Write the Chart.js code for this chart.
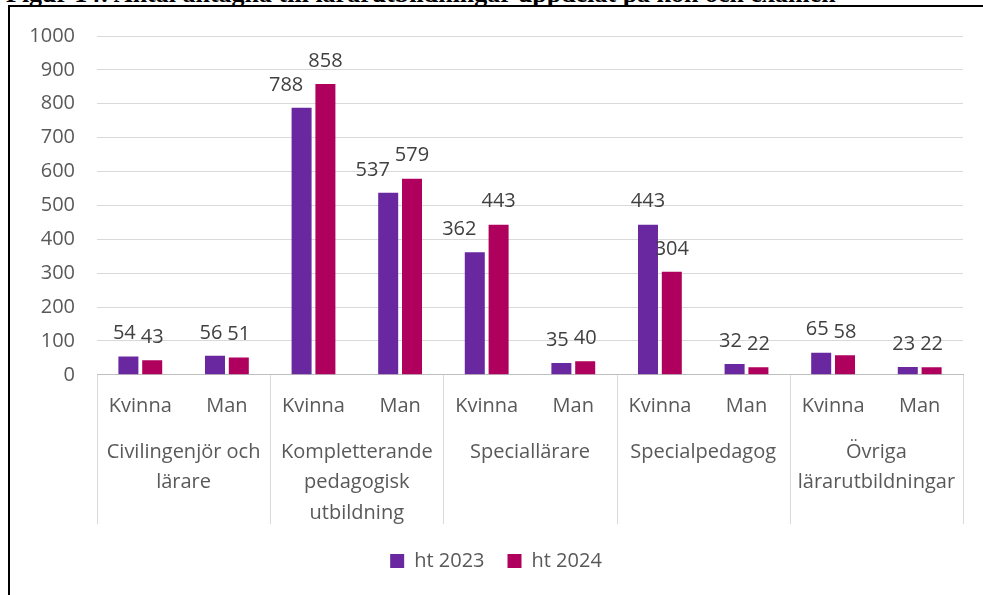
<!DOCTYPE html>
<html>
<head>
<meta charset="utf-8">
<script src="https://cdn.jsdelivr.net/npm/chart.js@4.4.1/dist/chart.umd.min.js"></script>
<style>
html,body{margin:0;padding:0;background:#fff;overflow:hidden;width:983px;height:595px;}
#title{position:absolute;left:6px;top:-19px;font:bold 26px "Liberation Serif",serif;line-height:26px;white-space:nowrap;color:#000;}
#frame{position:absolute;left:8px;top:5px;width:1000px;height:620px;border:2px solid #000;box-sizing:border-box;}
#wrap{position:absolute;left:10px;top:7px;width:973px;height:588px;}
</style>
</head>
<body>
<div id="title">Figur 14: Antal antagna till lärarutbildningar uppdelat på kön och examen</div>
<div id="frame"></div>
<div id="wrap"><canvas id="chart"></canvas></div>
<script>
// grupper (examen) och kön
const groups=[['Civilingenjör och','lärare'],['Kompletterande','pedagogisk','utbildning'],'Speciallärare','Specialpedagog',['Övriga','lärarutbildningar']]
const genders=['Kvinna','Man']
const subLabels=['Kvinna','Man','Kvinna','Man','Kvinna','Man','Kvinna','Man','Kvinna','Man']
const ht2023=[54,56,788,537,362,35,443,32,65,23]
const ht2024=[43,51,858,579,443,40,304,22,58,22]
const yTicks=[0,100,200,300,400,500,600,700,800,900,1000]

const textColor='#595959'
const fontFam='"Open Sans", sans-serif'
const fontSize=20

// värden ovanför staplarna, vänster etikett flyttas om de krockar
const valueLabels={
id:'valueLabels',
afterDatasetsDraw(chart){
const ctx=chart.ctx
ctx.save()
ctx.font=fontSize+'px '+fontFam
ctx.fillStyle='#404040'
ctx.textAlign='center'
ctx.textBaseline='middle'
const m0=chart.getDatasetMeta(0)
const m1=chart.getDatasetMeta(1)
const d0=chart.data.datasets[0].data
const d1=chart.data.datasets[1].data
for(let j=0;j<d0.length;j++){
const b0=m0.data[j],b1=m1.data[j]
const t0=String(d0[j]),t1=String(d1[j])
const w0=ctx.measureText(t0).width,w1=ctx.measureText(t1).width
let x0=b0.x
const gap=(b1.x-w1/2)-(x0+w0/2)
if(gap<5&&Math.abs(b0.y-b1.y)<30)x0-=(5-gap)
ctx.fillText(t0,x0,b0.y-23)
ctx.fillText(t1,b1.x,b1.y-23)
}
ctx.restore()
}
}

// skiljelinjer mellan grupperna
const groupLines={
id:'groupLines',
afterDraw(chart){
const x=chart.scales.x
const x2=chart.scales.x2
const step=(x.right-x.left)/subLabels.length
const ctx=chart.ctx
ctx.save()
ctx.strokeStyle='#d9d9d9'
ctx.lineWidth=1
for(let i=0;i<=subLabels.length;i+=genders.length){
const px=Math.round(x.left+i*step)+0.5
ctx.beginPath()
ctx.moveTo(px,x.top)
ctx.lineTo(px,x2.bottom-4)
ctx.stroke()
}
ctx.restore()
}
}

const noSidePad=axis=>{axis.paddingLeft=0;axis.paddingRight=0}

new Chart(document.getElementById('chart'),{
type:'bar',
data:{
labels:subLabels,
datasets:[
{label:'ht 2023',data:ht2023,backgroundColor:'#6a28a0',categoryPercentage:0.55,barPercentage:0.84},
{label:'ht 2024',data:ht2024,backgroundColor:'#b0005e',categoryPercentage:0.55,barPercentage:0.84}
]
},
options:{
responsive:true,
maintainAspectRatio:false,
animation:false,
layout:{padding:{left:19,right:20,top:29,bottom:14}},
plugins:{
legend:{
position:'bottom',
labels:{boxWidth:14,boxHeight:14,color:textColor,font:{size:fontSize,family:fontFam},padding:23}
},
tooltip:{enabled:false}
},
scales:{
y:{
min:0,max:1000,
afterBuildTicks(axis){axis.ticks=yTicks.map(v=>({value:v}))},
afterFit(axis){axis.paddingTop=0;axis.paddingBottom=0;axis.width=68},
border:{display:false},
grid:{color:'#d9d9d9',drawTicks:false},
ticks:{color:textColor,font:{size:fontSize,family:fontFam},padding:22,callback:v=>String(v)}
},
x:{
position:'bottom',
afterFit:noSidePad,
border:{color:'#bfbfbf'},
grid:{display:false,drawTicks:false},
ticks:{color:textColor,font:{size:fontSize,family:fontFam},padding:19,maxRotation:0,autoSkip:false}
},
x2:{
type:'category',
labels:groups,
position:'bottom',
offset:true,
afterFit:noSidePad,
border:{display:false},
grid:{display:false,drawTicks:false},
ticks:{color:textColor,font:{size:fontSize,family:fontFam,lineHeight:1.52},padding:0,maxRotation:0,autoSkip:false}
}
}
},
plugins:[valueLabels,groupLines]
})
</script>
</body>
</html>
